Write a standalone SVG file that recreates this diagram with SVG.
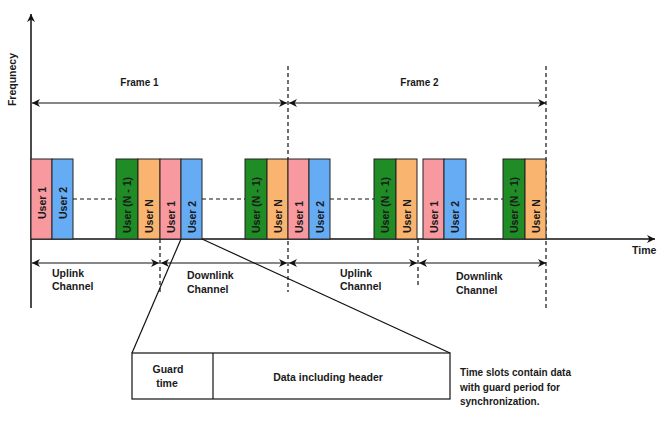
<svg xmlns="http://www.w3.org/2000/svg" width="663" height="427" viewBox="0 0 663 427">
<defs>
<marker id="ah" viewBox="0 0 10 10" refX="10" refY="5" markerWidth="10" markerHeight="8" markerUnits="userSpaceOnUse" orient="auto-start-reverse">
<path d="M0,0 L10,5 L0,10 L3,5 Z" fill="#111"/>
</marker>
<style>
.t{font-family:"Liberation Sans",Arial,sans-serif;font-weight:bold;fill:#1a1a1a}
.ax{stroke:#111;stroke-width:1.5;fill:none}
.ln{stroke:#111;stroke-width:1.2;fill:none}
.dash{stroke:#111;stroke-width:1.2;stroke-dasharray:4,3;fill:none}
.slot{stroke:#222;stroke-width:1}
.p{fill:#f7999e}.b{fill:#66acf5}.g{fill:#1f8c25}.o{fill:#f9b46f}
.ut{font-family:"Liberation Sans",Arial,sans-serif;font-weight:bold;font-size:10.5px;fill:#1a1a1a}
</style>
</defs>
<rect width="663" height="427" fill="#fff"/>

<g id="connectors">
<line class="ax" x1="31" y1="308" x2="31" y2="14" marker-end="url(#ah)"/>
<line class="ax" x1="31" y1="239" x2="655" y2="239" marker-end="url(#ah)"/>
<line class="dash" x1="288" y1="66" x2="288" y2="292"/>
<line class="dash" x1="546" y1="66" x2="546" y2="308"/>
<line class="dash" x1="160" y1="239" x2="160" y2="292"/>
<line class="dash" x1="418" y1="239" x2="418" y2="287"/>
<line class="dash" x1="73" y1="199" x2="116" y2="199"/>
<line class="dash" x1="202" y1="199" x2="245" y2="199"/>
<line class="dash" x1="330" y1="199" x2="374" y2="199"/>
<line class="dash" x1="466" y1="199" x2="503" y2="199"/>
<line class="ln" x1="32" y1="103" x2="287" y2="103" marker-start="url(#ah)" marker-end="url(#ah)"/>
<line class="ln" x1="289" y1="103" x2="546" y2="103" marker-start="url(#ah)" marker-end="url(#ah)"/>
<line class="ln" x1="32" y1="263" x2="159" y2="263" marker-start="url(#ah)" marker-end="url(#ah)"/>
<line class="ln" x1="161" y1="263" x2="287" y2="263" marker-start="url(#ah)" marker-end="url(#ah)"/>
<line class="ln" x1="289" y1="263" x2="417" y2="263" marker-start="url(#ah)" marker-end="url(#ah)"/>
<line class="ln" x1="419" y1="263" x2="546" y2="263" marker-start="url(#ah)" marker-end="url(#ah)"/>
<line class="ln" x1="181" y1="239" x2="132" y2="353"/>
<line class="ln" x1="202" y1="239" x2="450" y2="353"/>
</g>

<g id="labels">
<text class="t" font-size="10.5" transform="translate(16,79.5) rotate(-90)" text-anchor="middle">Frequnecy</text>
<text class="t" font-size="10" x="139.5" y="86" text-anchor="middle">Frame 1</text>
<text class="t" font-size="10" x="419.5" y="86" text-anchor="middle">Frame 2</text>
<text class="t" font-size="10.5" x="632" y="254">Time</text>
<text class="t" font-size="10.5" x="52" y="277">Uplink</text>
<text class="t" font-size="10.5" x="52" y="290">Channel</text>
<text class="t" font-size="10.5" x="187" y="279">Downlink</text>
<text class="t" font-size="10.5" x="187" y="293">Channel</text>
<text class="t" font-size="10.5" x="340" y="277">Uplink</text>
<text class="t" font-size="10.5" x="340" y="290">Channel</text>
<text class="t" font-size="10.5" x="456" y="280">Downlink</text>
<text class="t" font-size="10.5" x="456" y="294">Channel</text>
<text class="t" font-size="10" x="460" y="376">Time slots contain data</text>
<text class="t" font-size="10" x="460" y="390.5">with guard period for</text>
<text class="t" font-size="10" x="460" y="405">synchronization.</text>
</g>

<g id="slots1">
<rect class="slot p" x="31" y="159" width="21" height="80"/>
<rect class="slot b" x="52" y="159" width="21" height="80"/>
<text class="ut" transform="translate(41.5,219) rotate(-90)" dominant-baseline="central">User 1</text>
<text class="ut" transform="translate(62.5,219) rotate(-90)" dominant-baseline="central">User 2</text>
</g>
<g id="slots2">
<rect class="slot g" x="116" y="159" width="22" height="80"/>
<rect class="slot o" x="138" y="159" width="22" height="80"/>
<rect class="slot p" x="160" y="159" width="21" height="80"/>
<rect class="slot b" x="181" y="159" width="21" height="80"/>
<text class="ut" transform="translate(127,233) rotate(-90)" dominant-baseline="central">User (N - 1)</text>
<text class="ut" transform="translate(149,233) rotate(-90)" dominant-baseline="central">User N</text>
<text class="ut" transform="translate(170.5,233) rotate(-90)" dominant-baseline="central">User 1</text>
<text class="ut" transform="translate(191.5,233) rotate(-90)" dominant-baseline="central">User 2</text>
</g>
<g id="slots3">
<rect class="slot g" x="245" y="159" width="22" height="80"/>
<rect class="slot o" x="267" y="159" width="21" height="80"/>
<rect class="slot p" x="288" y="159" width="21" height="80"/>
<rect class="slot b" x="309" y="159" width="21" height="80"/>
<text class="ut" transform="translate(256,233) rotate(-90)" dominant-baseline="central">User (N - 1)</text>
<text class="ut" transform="translate(277.5,233) rotate(-90)" dominant-baseline="central">User N</text>
<text class="ut" transform="translate(298.5,233) rotate(-90)" dominant-baseline="central">User 1</text>
<text class="ut" transform="translate(319.5,233) rotate(-90)" dominant-baseline="central">User 2</text>
</g>
<g id="slots4">
<rect class="slot g" x="374" y="159" width="22" height="80"/>
<rect class="slot o" x="396" y="159" width="21" height="80"/>
<rect class="slot p" x="423" y="159" width="21" height="80"/>
<rect class="slot b" x="444" y="159" width="22" height="80"/>
<text class="ut" transform="translate(385,233) rotate(-90)" dominant-baseline="central">User (N - 1)</text>
<text class="ut" transform="translate(406.5,233) rotate(-90)" dominant-baseline="central">User N</text>
<text class="ut" transform="translate(433.5,233) rotate(-90)" dominant-baseline="central">User 1</text>
<text class="ut" transform="translate(455,233) rotate(-90)" dominant-baseline="central">User 2</text>
</g>
<g id="slots5">
<rect class="slot g" x="503" y="159" width="22" height="80"/>
<rect class="slot o" x="525" y="159" width="21" height="80"/>
<text class="ut" transform="translate(514,233) rotate(-90)" dominant-baseline="central">User (N - 1)</text>
<text class="ut" transform="translate(535.5,233) rotate(-90)" dominant-baseline="central">User N</text>
</g>

<g id="slot-detail">
<rect x="132" y="353" width="318" height="46" fill="#fff" stroke="#111" stroke-width="1.2"/>
<line class="ln" x1="213" y1="353" x2="213" y2="399"/>
<text class="t" font-size="10.5" x="168" y="373" text-anchor="middle">Guard</text>
<text class="t" font-size="10.5" x="167" y="387" text-anchor="middle">time</text>
<text class="t" font-size="10.5" x="328" y="381" text-anchor="middle">Data including header</text>
</g>
</svg>
